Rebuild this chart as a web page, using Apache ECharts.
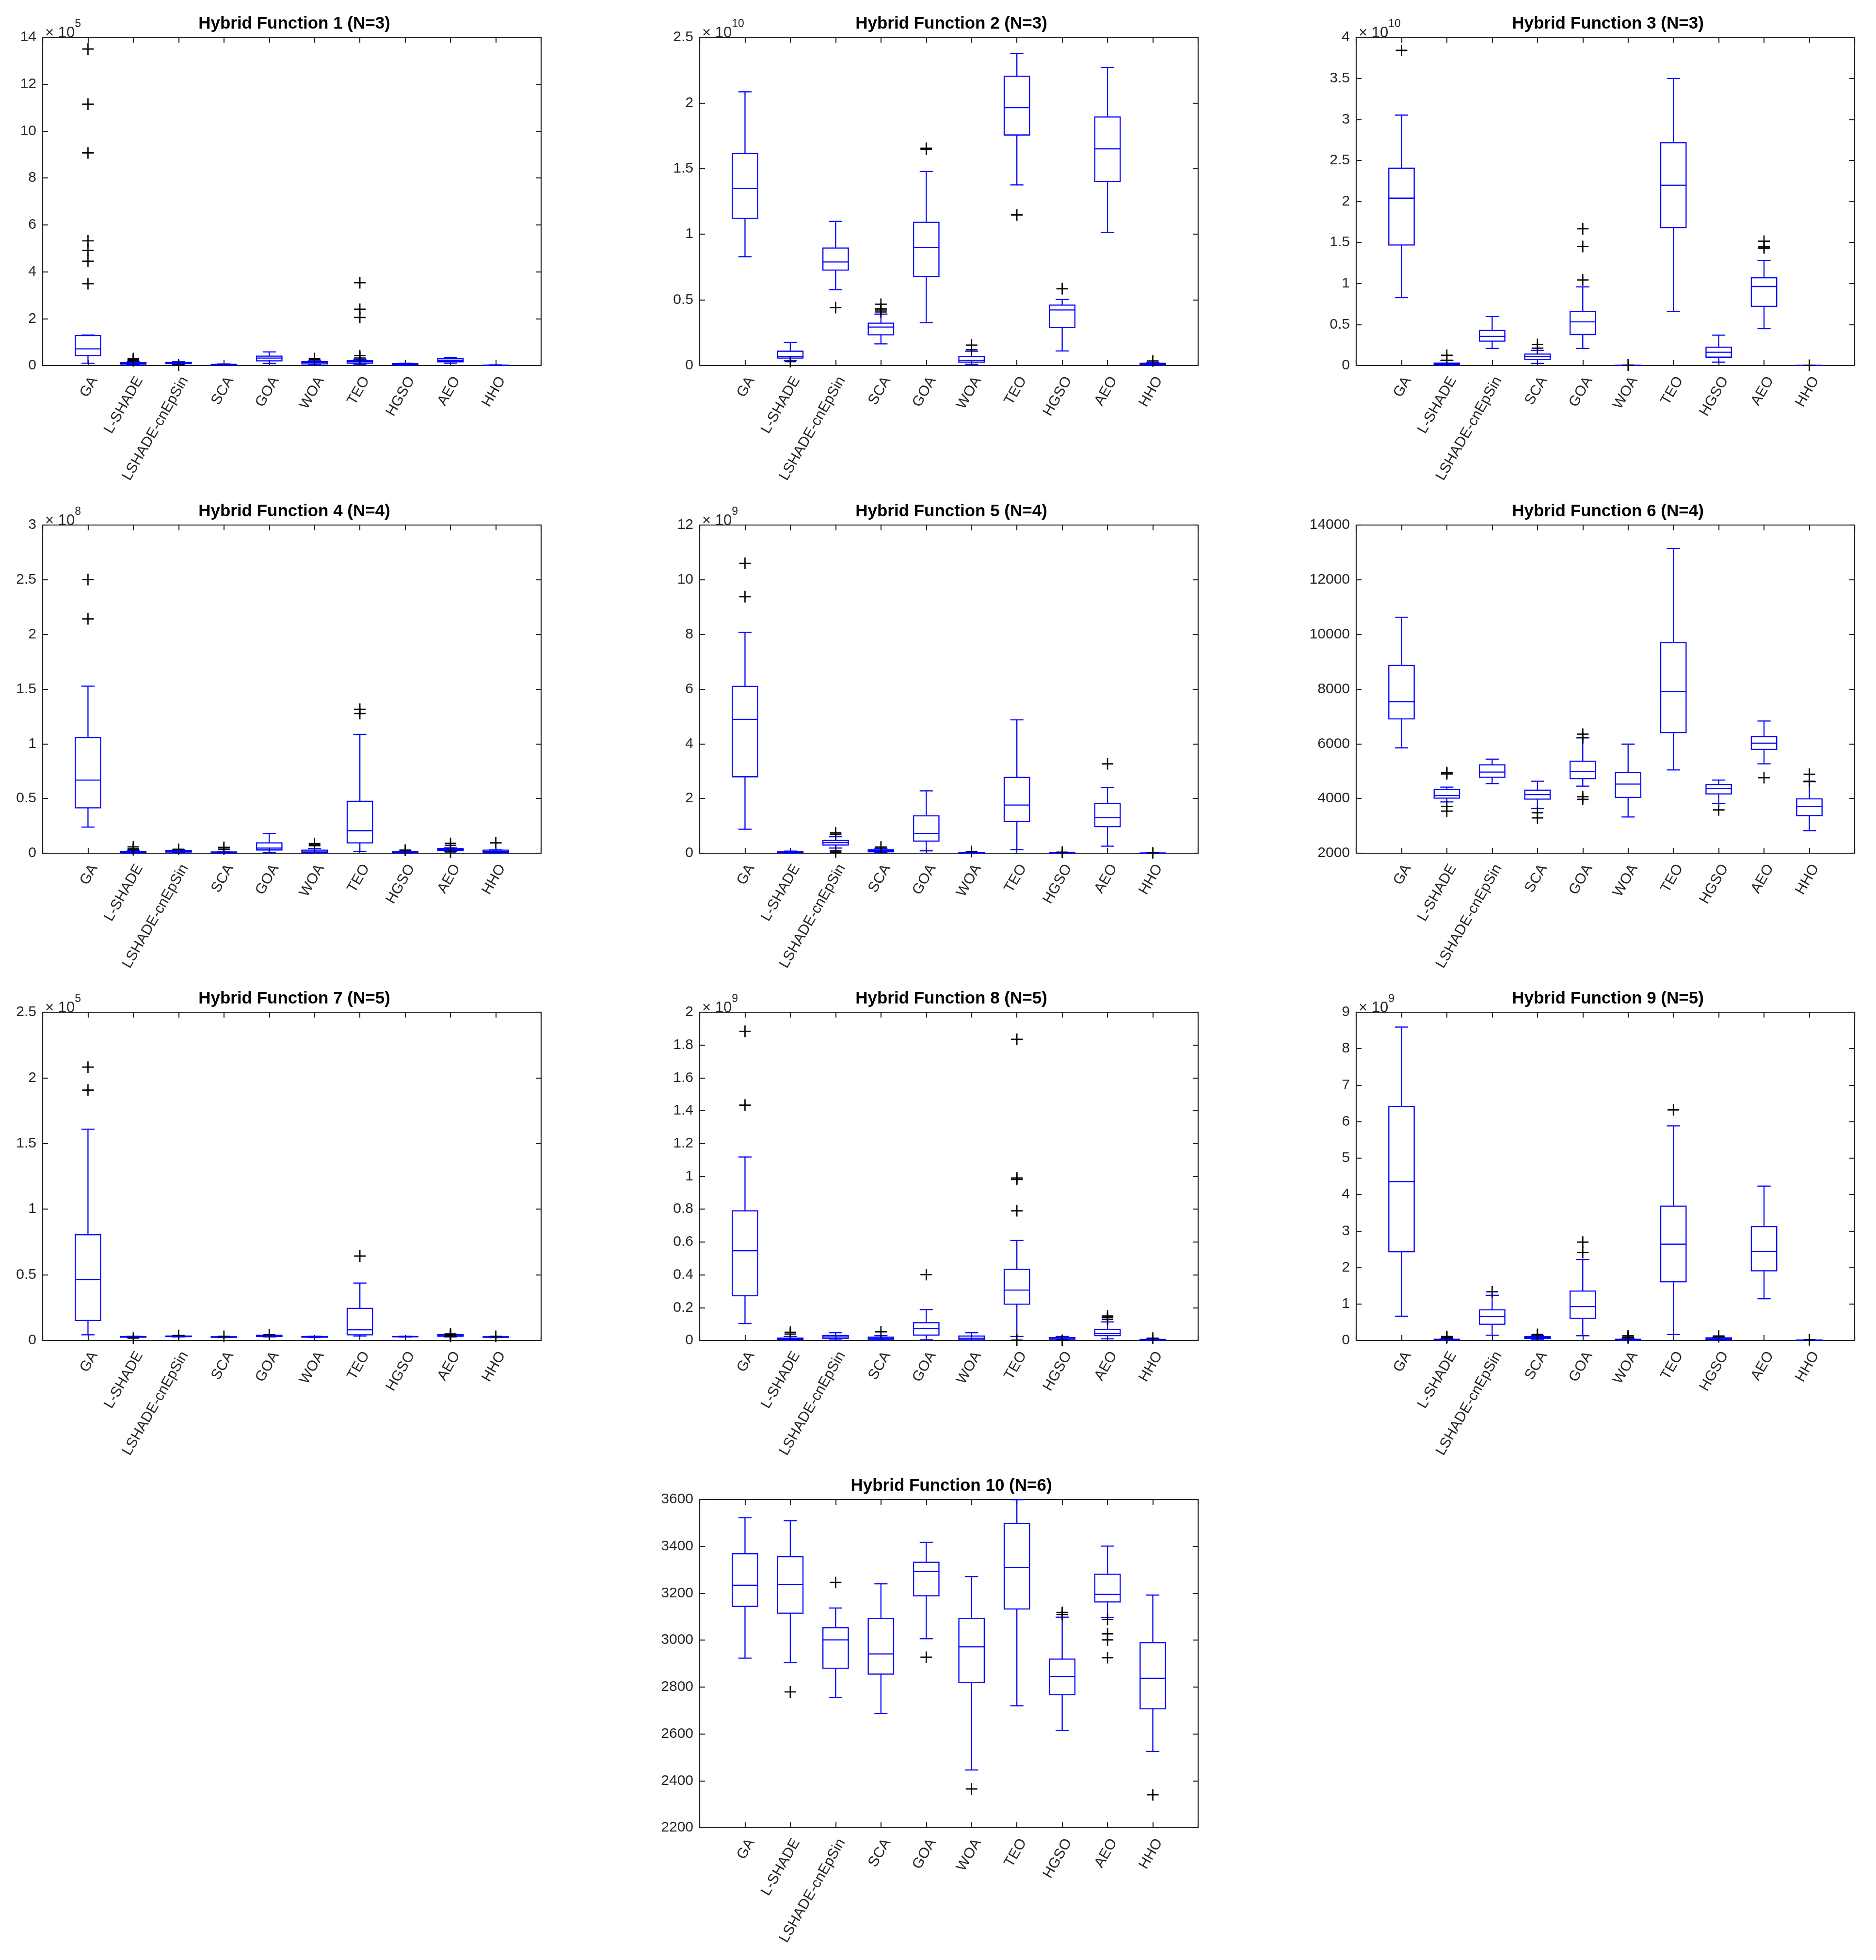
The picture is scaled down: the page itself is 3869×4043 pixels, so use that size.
<!DOCTYPE html>
<html>
<head>
<meta charset="utf-8">
<title>Hybrid Functions boxplots</title>
<script src="https://cdn.jsdelivr.net/npm/echarts@6/dist/echarts.min.js"></script>
<style>
  html, body { margin: 0; padding: 0; background: #fff; }
  #main { width: 3869px; height: 4043px; }
</style>
</head>
<body>
<div id="main"></div>
<script>
// algorithms on the x axis of every panel (placed at x = 1..10, axis runs 0..11)
var algorithms = ['GA', 'L-SHADE', 'LSHADE-cnEpSin', 'SCA', 'GOA', 'WOA', 'TEO', 'HGSO', 'AEO', 'HHO'];

var titles = [
  'Hybrid Function 1 (N=3)', 'Hybrid Function 2 (N=3)', 'Hybrid Function 3 (N=3)',
  'Hybrid Function 4 (N=4)', 'Hybrid Function 5 (N=4)', 'Hybrid Function 6 (N=4)',
  'Hybrid Function 7 (N=5)', 'Hybrid Function 8 (N=5)', 'Hybrid Function 9 (N=5)',
  'Hybrid Function 10 (N=6)'
];

// y axis: values are kept in axis units (x10^exponent)
var exponents  = [5, 10, 10, 8, 9, null, 5, 9, 9, null];
var yMins      = [0, 0, 0, 0, 0, 2000, 0, 0, 0, 2200];
var yMaxs      = [14, 2.5, 4, 3, 12, 14000, 2.5, 2, 9, 3600];
var yIntervals = [2, 0.5, 0.5, 0.5, 2, 2000, 0.5, 0.2, 1, 200];

// box stats per algorithm: [lower whisker, Q1, median, Q3, upper whisker]
var hf1Box = [[0.1,0.42,0.71,1.28,1.3],[0.02,0.06,0.09,0.12,0.16],[0.05,0.08,0.1,0.13,0.16],[0.02,0.03,0.04,0.05,0.07],[0.09,0.2,0.32,0.4,0.58],
              [0.03,0.07,0.12,0.16,0.2],[0.05,0.1,0.16,0.21,0.27],[0.01,0.03,0.05,0.08,0.1],[0.1,0.16,0.22,0.29,0.35],[0.005,0.01,0.015,0.02,0.03]];
var hf1Out = [[13.5,11.15,9.07,5.32,4.91,4.45,3.49],[0.2,0.22,0.26,0.3],[0.02],[],[],[0.25,0.3],[3.53,2.4,2.05,0.42,0.32],[],[],[]];

var hf2Box = [[0.829,1.121,1.348,1.615,2.085],[0.04,0.057,0.068,0.109,0.177],[0.578,0.727,0.789,0.895,1.098],[0.165,0.234,0.293,0.323,0.392],[0.326,0.678,0.9,1.091,1.478],
              [0.009,0.026,0.04,0.068,0.109],[1.376,1.756,1.964,2.203,2.377],[0.111,0.29,0.423,0.46,0.503],[1.015,1.402,1.65,1.893,2.271],[0.003,0.008,0.012,0.018,0.025]];
var hf2Out = [[],[0.03],[0.441],[0.467,0.432,0.423,0.408],[1.655,1.648],[0.156,0.12],[1.147],[0.585],[],[0.035]];

var hf3Box = [[0.827,1.469,2.04,2.406,3.052],[0.004,0.011,0.02,0.03,0.06],[0.208,0.298,0.355,0.427,0.597],[0.026,0.076,0.11,0.14,0.185],[0.208,0.378,0.533,0.661,0.959],
              [0,0.001,0.002,0.003,0.004],[0.661,1.681,2.198,2.716,3.498],[0.042,0.102,0.162,0.223,0.37],[0.449,0.721,0.963,1.069,1.28],[0,0.0005,0.001,0.0015,0.002]];
var hf3Out = [[3.841],[0.125,0.064],[],[0.257,0.212],[1.666,1.45,1.043],[0.006],[],[],[1.515,1.447,1.432],[0.003]];

var hf4Box = [[0.239,0.415,0.669,1.058,1.527],[0.002,0.006,0.011,0.017,0.026],[0.004,0.011,0.017,0.026,0.032],[0.002,0.004,0.007,0.011,0.013],[0.006,0.03,0.047,0.095,0.181],
              [0.003,0.007,0.011,0.028,0.043],[0.015,0.095,0.206,0.475,1.086],[0.002,0.006,0.009,0.013,0.019],[0.015,0.026,0.034,0.043,0.049],[0.002,0.009,0.017,0.028,0.03]];
var hf4Out = [[2.501,2.142],[0.058,0.041,0.032],[0.036],[0.054,0.037],[],[0.088,0.077,0.069],[1.316,1.277],[0.028],[0.09,0.073,0.011],[0.095]];

var hf5Box = [[0.877,2.796,4.895,6.099,8.077],[0.005,0.02,0.03,0.052,0.077],[0.189,0.301,0.387,0.465,0.602],[0.026,0.052,0.086,0.12,0.181],[0.086,0.447,0.723,1.368,2.28],
              [0.002,0.008,0.015,0.025,0.035],[0.129,1.153,1.763,2.77,4.877],[0.003,0.01,0.015,0.02,0.03],[0.258,0.972,1.299,1.824,2.409],[0.001,0.003,0.005,0.008,0.012]];
var hf5Out = [[10.6,9.38],[],[0.748,0.697,0.086,0.043],[0.224],[],[0.06],[],[0.04],[3.269],[0.015]];

var hf6Box = [[5854,6912,7540,8865,10628],[3875,4013,4108,4323,4417],[4546,4778,4968,5234,5441],[3634,3978,4142,4305,4632],[4452,4727,4985,5363,6215],
              [3325,4039,4529,4959,5991],[5045,6413,7910,9699,13148],[3824,4168,4374,4512,4675],[5269,5794,6026,6267,6834],[2826,3376,3712,3987,4615]];
var hf6Out = [[],[4950,4933,4899,3712,3540],[],[3480,3290],[6353,6224,4065,3970],[],[],[3583],[4761],[4890,4630]];

var hf7Box = [[0.043,0.152,0.464,0.805,1.609],[0.022,0.025,0.027,0.03,0.032],[0.027,0.029,0.03,0.034,0.036],[0.022,0.024,0.026,0.028,0.03],[0.027,0.03,0.036,0.039,0.041],
              [0.022,0.025,0.028,0.03,0.032],[0.034,0.043,0.081,0.244,0.437],[0.026,0.028,0.029,0.03,0.032],[0.027,0.032,0.041,0.045,0.048],[0.022,0.024,0.026,0.028,0.03]];
var hf7Out = [[2.082,1.907],[0.018],[0.038],[0.031],[0.044],[],[0.643],[],[0.05,0.046,0.038,0.035,0.03],[0.031]];

var hf8Box = [[0.103,0.272,0.546,0.79,1.118],[0.001,0.006,0.01,0.014,0.024],[0.003,0.013,0.022,0.03,0.047],[0.001,0.007,0.013,0.02,0.029],[0.004,0.033,0.073,0.108,0.188],
              [0.001,0.004,0.013,0.027,0.047],[0.024,0.221,0.307,0.433,0.609],[0.004,0.007,0.01,0.017,0.024],[0.01,0.029,0.042,0.066,0.113],[0.001,0.002,0.004,0.006,0.01]];
var hf8Out = [[1.884,1.434],[0.05,0.039],[],[0.053],[0.401],[],[1.835,0.99,0.981,0.79,0.002],[0.001],[0.149,0.139,0.128],[0.014]];

var hf9Box = [[0.665,2.432,4.355,6.419,8.594],[0.005,0.012,0.02,0.03,0.045],[0.142,0.445,0.652,0.839,1.239],[0.019,0.052,0.077,0.103,0.129],[0.129,0.606,0.929,1.355,2.219],
              [0.003,0.01,0.018,0.03,0.058],[0.161,1.606,2.639,3.684,5.884],[0.008,0.025,0.045,0.071,0.084],[1.142,1.91,2.439,3.123,4.232],[0.001,0.004,0.007,0.01,0.014]];
var hf9Out = [[],[0.11,0.09,0.07],[1.335],[0.165,0.16,0.155],[2.697,2.413],[0.129,0.097,0.071],[6.323],[0.123,0.1],[],[0.018]];

var hf10Box = [[2923,3144,3234,3368,3522],[2904,3115,3238,3356,3509],[2755,2880,3001,3053,3137],[2687,2855,2941,3093,3240],[3006,3189,3292,3332,3417],
               [2446,2820,2971,3093,3271],[2720,3133,3310,3497,3599],[2615,2767,2845,2919,3098],[3096,3163,3195,3281,3401],[2525,2707,2837,2989,3192]];
var hf10Out = [[],[2779],[3246],[],[2927],[2365],[],[3118,3109],[3088,3027,3001,2925],[2340]];

var boxes    = [hf1Box, hf2Box, hf3Box, hf4Box, hf5Box, hf6Box, hf7Box, hf8Box, hf9Box, hf10Box];
var outliers = [hf1Out, hf2Out, hf3Out, hf4Out, hf5Out, hf6Out, hf7Out, hf8Out, hf9Out, hf10Out];

// layout of the 4x3 subplot grid (panel 10 sits in the middle column)
var colLeft = [88, 1443, 2797];
var rowTop = [77, 1083, 2088, 3093];
var plotW = 1028, plotH = 677;
var cells = [[0,0],[0,1],[0,2],[1,0],[1,1],[1,2],[2,0],[2,1],[2,2],[3,1]];

var BLUE = '#0000ff';
var AXIS = '#262626';
var FONT = '"Liberation Sans", Arial, Helvetica, sans-serif';
var CROSS = 'path://M4.45,0H5.55V4.45H10V5.55H5.55V10H4.45V5.55H0V4.45H4.45Z';

function renderBox(params, api) {
    var c = api.value(0);
    var p = [1, 2, 3, 4, 5].map(function (k) { return api.coord([c, api.value(k)]); });
    var x = p[0][0];
    var unit = api.size([1, 0])[0];
    var bw = unit * 0.56 / 2, cw = unit * 0.29 / 2;
    var style = { stroke: BLUE, lineWidth: 2.3, fill: 'none' };
    function line(x1, y1, x2, y2) {
        return { type: 'line', shape: { x1: x1, y1: y1, x2: x2, y2: y2 }, style: style };
    }
    return {
        type: 'group',
        children: [
            line(x, p[0][1], x, p[1][1]),
            line(x, p[3][1], x, p[4][1]),
            line(x - cw, p[0][1], x + cw, p[0][1]),
            line(x - cw, p[4][1], x + cw, p[4][1]),
            { type: 'rect', shape: { x: x - bw, y: p[3][1], width: 2 * bw, height: p[1][1] - p[3][1] }, style: style },
            line(x - bw, p[2][1], x + bw, p[2][1])
        ]
    };
}

function fmt(v) { return String(+v.toFixed(6)); }
function algName(v) { return algorithms[Math.round(v) - 1] || ''; }

var chart = echarts.init(document.getElementById('main'));
var grid = [], xAxis = [], yAxis = [], series = [], title = [];

titles.forEach(function (t, i) {
    var left = colLeft[cells[i][1]], top = rowTop[cells[i][0]];
    grid.push({ left: left, top: top, width: plotW, height: plotH, outerBoundsMode: 'none' });
    title.push({
        text: t, left: left + plotW / 2, top: top - 50, textAlign: 'center',
        textStyle: { fontFamily: FONT, fontSize: 35, fontWeight: 'bold', color: '#000' }
    });
    var lineStyle = { color: AXIS, width: 2.2 };
    var axisLine = { show: true, onZero: false, lineStyle: lineStyle };
    var tick = { show: true, inside: true, length: 11, lineStyle: lineStyle };
    // bottom and top x axes, algorithms at 1..10
    xAxis.push({
        type: 'value', gridIndex: i, position: 'bottom', min: 0, max: 11, interval: 1,
        axisLine: axisLine, axisTick: tick,
        axisLabel: {
            rotate: 60, margin: 18, align: 'right', verticalAlign: 'top',
            fontSize: 30, fontFamily: FONT, color: AXIS, formatter: algName
        },
        splitLine: { show: false }
    });
    xAxis.push({
        type: 'value', gridIndex: i, position: 'top', min: 0, max: 11, interval: 1,
        axisLine: axisLine, axisTick: tick,
        axisLabel: { show: false }, splitLine: { show: false }
    });
    var yLeft = {
        type: 'value', gridIndex: i, position: 'left',
        min: yMins[i], max: yMaxs[i], interval: yIntervals[i],
        axisLine: axisLine, axisTick: tick,
        axisLabel: { margin: 13, fontSize: 30, fontFamily: FONT, color: AXIS, formatter: fmt },
        splitLine: { show: false }
    };
    if (exponents[i] !== null) {
        yLeft.name = '{b|\u00d7 10}{s|' + exponents[i] + '}';
        yLeft.nameLocation = 'end';
        yLeft.nameGap = -7;
        yLeft.nameTextStyle = {
            align: 'left', verticalAlign: 'bottom', padding: [0, 0, 0, 5],
            rich: {
                b: { fontSize: 31, fontFamily: FONT, color: AXIS, lineHeight: 46, verticalAlign: 'bottom' },
                s: { fontSize: 23, fontFamily: FONT, color: AXIS, lineHeight: 22, verticalAlign: 'top' }
            }
        };
    }
    yAxis.push(yLeft);
    yAxis.push({
        type: 'value', gridIndex: i, position: 'right',
        min: yMins[i], max: yMaxs[i], interval: yIntervals[i],
        axisLine: axisLine, axisTick: tick,
        axisLabel: { show: false }, splitLine: { show: false }
    });

    var boxData = boxes[i].map(function (b, k) { return [k + 1].concat(b); });
    series.push({
        type: 'custom', xAxisIndex: 2 * i, yAxisIndex: 2 * i,
        renderItem: renderBox, data: boxData,
        encode: { x: 0, y: [1, 2, 3, 4, 5] }, z: 2
    });
    var outData = [];
    outliers[i].forEach(function (list, k) {
        list.forEach(function (v) { outData.push([k + 1, v]); });
    });
    series.push({
        type: 'scatter', xAxisIndex: 2 * i, yAxisIndex: 2 * i,
        symbol: CROSS, symbolSize: 24, data: outData,
        itemStyle: { color: '#000', opacity: 1 }, z: 3
    });
});

chart.setOption({
    backgroundColor: '#fff',
    animation: false,
    title: title,
    grid: grid,
    xAxis: xAxis,
    yAxis: yAxis,
    series: series
});
</script>
</body>
</html>
